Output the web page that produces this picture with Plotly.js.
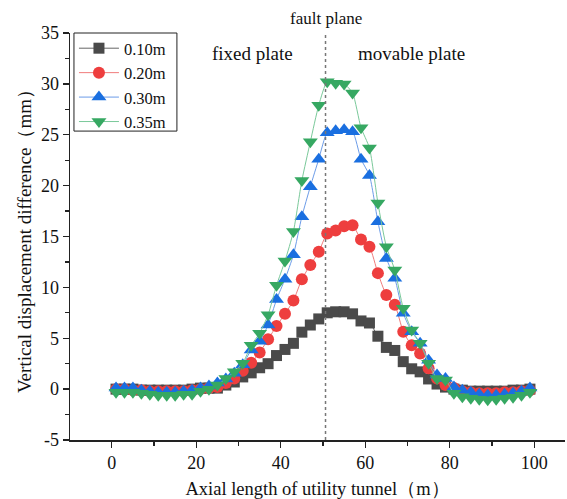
<!DOCTYPE html>
<html><head><meta charset="utf-8">
<script src="https://cdn.plot.ly/plotly-3.0.1.min.js"></script>
<style>html,body{margin:0;padding:0;background:#fff}#chart{width:567px;height:499px}</style>
</head><body><div id="chart"></div>
<script>
const xPos = [1,3,5,7,9,11,13,15,17,19,21,23,25,27,29,31,33,35,37,39,41,43,45,47,49,51,53,55,57,59,61,63,65,67,69,71,73,75,77,79,81,83,85,87,89,91,93,95,97,99];
const seriesNames = ['0.10m','0.20m','0.30m','0.35m'];
const d010 = [0,0,0,-0.1,-0.1,-0.1,-0.1,-0.1,-0.1,0,0.1,0.1,0.1,0.4,0.7,1.2,1.6,2.1,2.5,3.3,3.9,4.5,5.6,6.3,6.9,7.5,7.6,7.6,7.4,6.7,6.5,5.2,4.1,3.8,2.7,2.0,1.7,1.0,0.5,0.2,0.0,-0.1,-0.2,-0.2,-0.2,-0.2,-0.2,-0.1,-0.1,0];
const d020 = [0,0,-0.1,-0.1,-0.2,-0.2,-0.2,-0.2,-0.2,-0.1,0,0.1,0.2,0.6,1.05,1.8,2.6,3.6,4.9,6.2,7.4,8.7,10.8,12.2,13.5,15.3,15.6,16.0,16.1,14.7,14.0,11.4,9.25,8.3,5.65,4.3,3.5,2.05,1.05,0.4,0.1,-0.2,-0.3,-0.4,-0.4,-0.4,-0.3,-0.3,-0.2,-0.1];
const d030 = [0.1,0.1,0.1,-0.1,-0.2,-0.3,-0.3,-0.3,-0.2,-0.1,0.1,0.3,0.6,1.0,1.55,2.4,3.85,4.7,6.3,8.8,10.8,13.2,16.95,19.9,22.6,25.2,25.4,25.5,25.3,22.6,21.0,16.45,12.85,10.9,7.45,5.65,4.5,2.85,1.4,1.05,0.2,-0.1,-0.3,-0.5,-0.6,-0.6,-0.5,-0.4,-0.2,0.1];
const d035 = [-0.3,-0.3,-0.3,-0.4,-0.5,-0.6,-0.6,-0.6,-0.5,-0.5,-0.2,0.0,0.4,1.05,1.7,2.55,4.3,5.5,7.3,10.2,12.6,15.5,20.5,24.3,27.9,30.2,30.05,30.0,29.1,25.7,23.7,18.3,14.0,11.7,7.95,5.8,4.5,2.55,1.05,0.9,-0.4,-0.75,-0.9,-1.0,-1.05,-1.0,-0.9,-0.8,-0.6,-0.3];
const faultX = 50.6;
const yTicks = [-5,0,5,10,15,20,25,30,35];
const yTickText = ['-5','0','5','10','15','20','25','30','35'];
const xTicks = [0,20,40,60,80,100];

const serif = 'Liberation Serif, Times New Roman, serif';
const styles = [
  {m:'square', mc:'#4a4a4a', lc:'#666666', s:11},
  {m:'circle', mc:'#ee3e3e', lc:'#f07c7c', s:12},
  {m:'triangle-up', mc:'#1a6fe0', lc:'#6c9ce8', s:13},
  {m:'triangle-down', mc:'#36a862', lc:'#7ac99a', s:13}
];
const data = [d010,d020,d030,d035].map((ys,i)=>({
  type:'scatter', mode:'lines+markers', name:seriesNames[i], x:xPos, y:ys,
  line:{color:styles[i].lc, width:1, shape:'spline', smoothing:0.6},
  marker:{symbol:styles[i].m, color:styles[i].mc, size:styles[i].s, line:{width:0}}
}));
data.push({type:'scatter', mode:'lines', x:[faultX,faultX], y:[-5,35], showlegend:false,
  line:{color:'#777', width:1.5, dash:'dot'}, hoverinfo:'skip'});

const layout = {
  width:567, height:499,
  margin:{l:70, r:2, t:33, b:59},
  paper_bgcolor:'#fff', plot_bgcolor:'#fff',
  font:{family:serif, size:18, color:'#111'},
  showlegend:true,
  legend:{x:0.008, y:1.005, xanchor:'left', yanchor:'top', borderwidth:0,
    bgcolor:'rgba(255,255,255,0)', font:{family:serif, size:16.5, color:'#111'}, tracegroupgap:0, itemwidth:40},
  shapes:[
    {type:'rect', xref:'paper', yref:'paper', x0:0.008, x1:0.216, y0:0.759, y1:1,
     line:{color:'#222', width:1}, fillcolor:'rgba(0,0,0,0)'}
  ],
  xaxis:{range:[-9.9,107.3], tickvals:xTicks, ticks:'outside', ticklen:6, tickwidth:1.3, tickcolor:'#222',
    minor:{dtick:10, tick0:0, ticks:'outside', ticklen:4, tickcolor:'#222', tickwidth:1.3},
    showline:true, linecolor:'#222', linewidth:1.5, showgrid:false, zeroline:false, mirror:false,
    tickfont:{family:serif, size:18},
    title:{text:'Axial length of utility tunnel（m）', font:{family:serif, size:18.5}, standoff:10}},
  yaxis:{range:[-5,35], tickvals:yTicks, ticktext:yTickText, ticks:'outside', ticklen:6, tickwidth:1.3, tickcolor:'#222',
    minor:{dtick:2.5, tick0:0, ticks:'outside', ticklen:4, tickcolor:'#222', tickwidth:1.3},
    showline:true, linecolor:'#222', linewidth:1.5, showgrid:false, zeroline:false,
    tickfont:{family:serif, size:18},
    title:{text:'Vertical displacement difference（mm）', font:{family:serif, size:19}, standoff:4}},
  annotations:[
    {text:'fault plane', x:faultX, xref:'x', y:1, yref:'paper', yanchor:'bottom', yshift:3, showarrow:false, font:{family:serif,size:17}},
    {text:'fixed plate', x:33.2, xref:'x', y:33, yref:'y', showarrow:false, font:{family:serif,size:19}},
    {text:'movable plate', x:70.9, xref:'x', y:33, yref:'y', showarrow:false, font:{family:serif,size:19}}
  ]
};
Plotly.newPlot('chart', data, layout, {displayModeBar:false, staticPlot:true});
</script></body></html>
